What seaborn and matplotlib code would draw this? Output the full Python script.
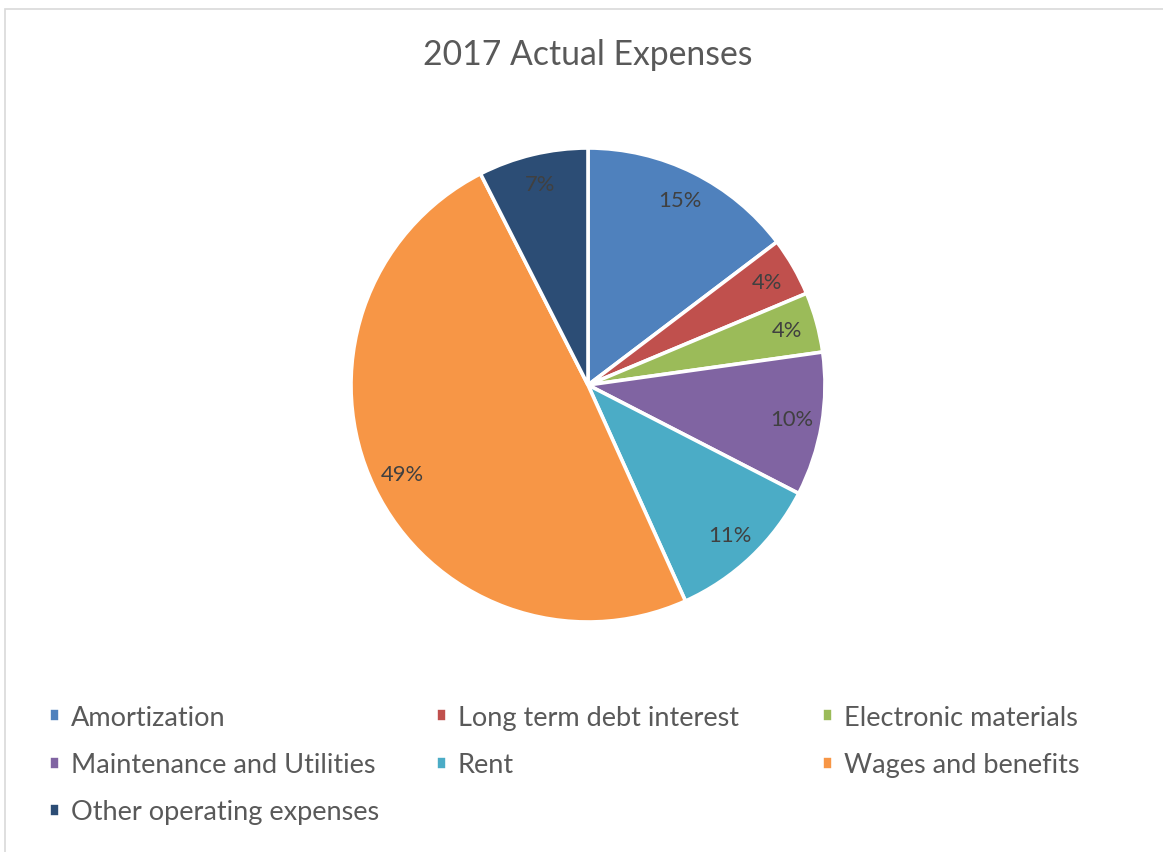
import matplotlib
matplotlib.use("Agg")
import matplotlib.pyplot as plt
import seaborn as sns
from matplotlib.patches import Rectangle

categories = ["Amortization", "Long term debt interest", "Electronic materials",
              "Maintenance and Utilities", "Rent", "Wages and benefits",
              "Other operating expenses"]
values = [14.7, 4.0, 4.1, 9.8, 10.7, 49.3, 7.5]
colors = ["#4F81BD", "#C0504D", "#9BBB59", "#8064A2", "#4BACC6", "#F79646", "#2C4D75"]
title = "2017 Actual Expenses"

sns.set_theme(style="white")
plt.rcParams['font.family'] = ['Lato', 'DejaVu Sans']
palette = sns.color_palette(colors)

fig = plt.figure(figsize=(11.63, 8.53), dpi=100)
W, H = 1163, 853
# outer chart border (top & left visible)
fig.patches.append(Rectangle((5 / W, -0.1), 1.2, 1 - 10 / H + 0.1, transform=fig.transFigure,
                             fill=False, edgecolor="#D9D9D9", linewidth=1.2))

cx, cy, r = 588, 386, 237
ax = fig.add_axes([(cx - r) / W, (H - cy - r) / H, 2 * r / W, 2 * r / H])
wedges, texts, autotexts = ax.pie(values, colors=palette, startangle=90, counterclock=False,
                                  autopct=lambda p: f"{p:.0f}%", pctdistance=0.87,
                                  wedgeprops=dict(edgecolor="white", linewidth=2.6),
                                  textprops=dict(color="#404040", fontsize=15.8))
ax.set_xlim(-1, 1)
ax.set_ylim(-1, 1)
ax.set_aspect("equal")
ax.axis("off")

fig.text(cx / W, 1 - 55 / H, title, ha="center", va="center", fontsize=24.3, color="#595959")

cols = [[0, 3, 6], [1, 4], [2, 5]]
col_x = [49, 436, 822]
for cidx, items in zip(col_x, cols):
    fig.legend([wedges[i] for i in items], [categories[i] for i in items],
               loc="upper left", bbox_to_anchor=(cidx / W, 1 - 706 / H),
               frameon=False, fontsize=19.5, labelcolor="#595959",
               handlelength=0.42, handleheight=0.42, handletextpad=0.38,
               labelspacing=0.82, borderaxespad=0, borderpad=0)

fig.savefig("out.png", dpi=100, facecolor="white")
